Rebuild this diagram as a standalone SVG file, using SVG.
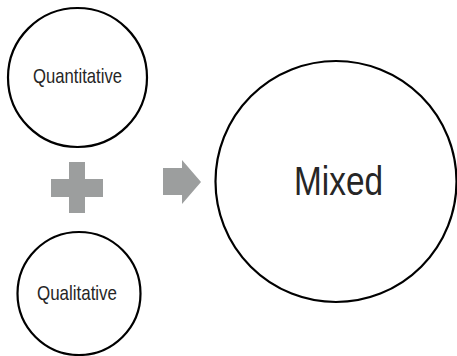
<svg xmlns="http://www.w3.org/2000/svg" width="457" height="356" viewBox="0 0 457 356">
<style>
.c{fill:#fff;stroke:#000;stroke-width:2.2}
.t{font-family:"Liberation Sans",Arial,sans-serif;fill:#262626;text-anchor:middle}
.g{fill:#9c9e9e}
</style>
<rect width="457" height="356" fill="#fff"/>
<g id="quantitative">
<circle class="c" cx="77.5" cy="77.5" r="69.5"/>
<text class="t" x="77.5" y="83" font-size="21" textLength="89" lengthAdjust="spacingAndGlyphs">Quantitative</text>
</g>
<g id="qualitative">
<circle class="c" cx="79" cy="293.5" r="61.5"/>
<text class="t" x="77" y="300" font-size="21" textLength="80" lengthAdjust="spacingAndGlyphs">Qualitative</text>
</g>
<g id="mixed">
<circle class="c" cx="336" cy="181.5" r="120.5"/>
<text class="t" x="338.5" y="195" font-size="40" textLength="89" lengthAdjust="spacingAndGlyphs">Mixed</text>
</g>
<g id="connectors">
<path class="g" d="M69 162H85V179H103V197H85V213H69V197H51V179H69Z"/>
<path class="g" d="M163 168H182V160L201 182L182 204V195H163Z"/>
</g>
</svg>
